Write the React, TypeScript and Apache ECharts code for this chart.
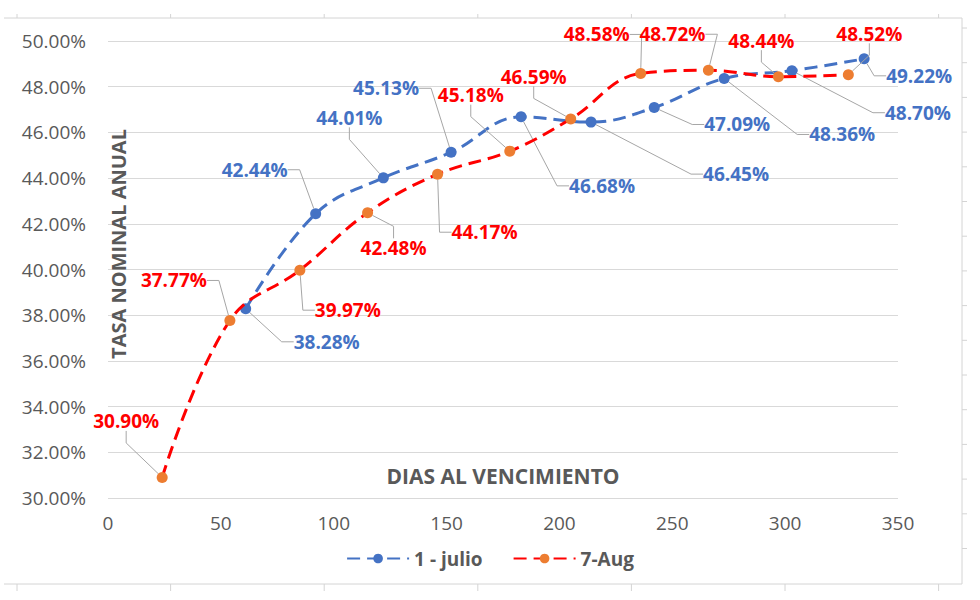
import React, { useEffect, useRef } from "react";
import * as echarts from "echarts";

const julioDays = [61, 92, 122, 152, 183, 214, 242, 273, 303, 335];
const julioRates = [38.28, 42.44, 44.01, 45.13, 46.68, 46.45, 47.09, 48.36, 48.7, 49.22];
const augDays = [24, 54, 85, 115, 146, 178, 205, 236, 266, 297, 328];
const augRates = [30.9, 37.77, 39.97, 42.48, 44.17, 45.18, 46.59, 48.58, 48.72, 48.44, 48.52];
const yTicks = { min: 30, max: 50, step: 2 };
const xTicks = { min: 0, max: 350, step: 50 };

// label offsets (layout only)
const julioLabelOffsets = [
  [81, 33], [-61, -44], [-34, -60], [-65, -64], [81, 69], [145, 52], [83, 17], [118, 56], [126, 42], [55, 17],
];
const augLabelOffsets = [
  [-36, -56], [-56, -40], [48, 40], [26, 35], [47, 58], [-39, -56], [-37, -42], [-44, -39], [-36, -36], [-17, -36], [21, -41],
];

const FONT = "Open Sans";
const BLUE = "#4472C4";
const RED = "#FF0000";
const ORANGE = "#ED7D31";
const GRAY = "#595959";

function sheetGrid() {
  const els: any[] = [];
  const c = "#d4d4d4";
  els.push({ type: "line", shape: { x1: 4, y1: 18, x2: 962, y2: 18 }, style: { stroke: c, lineWidth: 1 } });
  els.push({ type: "line", shape: { x1: 4, y1: 584, x2: 962, y2: 584 }, style: { stroke: c, lineWidth: 1 } });
  els.push({ type: "line", shape: { x1: 962, y1: 18, x2: 962, y2: 584 }, style: { stroke: c, lineWidth: 1 } });
  for (let i = 0; i < 7; i++) {
    const x = 17 + i * 153.6;
    els.push({ type: "line", shape: { x1: x, y1: 14, x2: x, y2: 18 }, style: { stroke: c, lineWidth: 1 } });
    els.push({ type: "line", shape: { x1: x, y1: 584, x2: x, y2: 591 }, style: { stroke: c, lineWidth: 1 } });
  }
  for (let i = 0; i < 16; i++) {
    const y = 28 + i * 34.7;
    if (y > 584) break;
    els.push({ type: "line", shape: { x1: 962, y1: y, x2: 967, y2: y }, style: { stroke: c, lineWidth: 1 } });
  }
  return els;
}

export default function App() {
  const ref = useRef<HTMLDivElement>(null);
  useEffect(() => {
    if (!ref.current) return;
    const chart = echarts.init(ref.current, null, { renderer: "svg" });
    const mkLayout = (offsets: number[][]) => (p: any) => {
      const o = offsets[p.dataIndex] || [0, 0];
      return {
        x: p.rect.x + p.rect.width / 2 + o[0],
        y: p.rect.y + p.rect.height / 2 + o[1],
        align: "center",
        verticalAlign: "middle",
      };
    };
    const labelLine = { show: true, length2: 12, lineStyle: { color: "#a6a6a6", width: 1 } };
    chart.setOption({
      animation: false,
      backgroundColor: "#ffffff",
      textStyle: { fontFamily: FONT },
      grid: { left: 108, right: 82, top: 41, bottom: 102, containLabel: false },
      xAxis: {
        type: "value",
        min: xTicks.min,
        max: xTicks.max,
        interval: xTicks.step,
        axisLine: { show: false },
        axisTick: { show: false },
        splitLine: { show: false },
        axisLabel: { color: GRAY, fontSize: 19, margin: 15, fontFamily: FONT },
      },
      yAxis: {
        type: "value",
        min: yTicks.min,
        max: yTicks.max,
        interval: yTicks.step,
        axisLine: { show: false },
        axisTick: { show: false },
        splitLine: { lineStyle: { color: "#d9d9d9", width: 1 } },
        axisLabel: {
          color: GRAY,
          fontSize: 19,
          margin: 22,
          fontFamily: FONT,
          formatter: (v: number) => v.toFixed(2) + "%",
        },
      },
      legend: {
        left: "center",
        top: 544,
        itemWidth: 62,
        itemHeight: 12,
        itemGap: 30,
        textStyle: { color: GRAY, fontSize: 19, fontWeight: "bold", fontFamily: FONT },
        data: ["1 - julio", "7-Aug"],
      },
      graphic: [
        ...sheetGrid(),
        {
          type: "text",
          x: 503,
          y: 476,
          z: 10,
          style: {
            text: "DIAS AL VENCIMIENTO",
            fill: GRAY,
            font: `bold 21px "${FONT}"`,
            align: "center",
            verticalAlign: "middle",
          },
        },
        {
          type: "text",
          x: 118,
          y: 244,
          rotation: Math.PI / 2,
          z: 10,
          style: {
            text: "TASA NOMINAL ANUAL",
            fill: GRAY,
            font: `bold 20px "${FONT}"`,
            align: "center",
            verticalAlign: "middle",
          },
        },
      ],
      series: [
        {
          name: "1 - julio",
          type: "line",
          smooth: 0.4,
          data: julioDays.map((d, i) => [d, julioRates[i]]),
          symbol: "circle",
          symbolSize: 11,
          itemStyle: { color: BLUE },
          lineStyle: { color: BLUE, width: 3, type: [13, 7] },
          label: {
            show: true,
            color: BLUE,
            fontWeight: "bold",
            fontSize: 19,
            fontFamily: FONT,
            formatter: (p: any) => p.value[1].toFixed(2) + "%",
          },
          labelLine,
          labelLayout: mkLayout(julioLabelOffsets),
          z: 3,
        },
        {
          name: "7-Aug",
          type: "line",
          smooth: 0.4,
          data: augDays.map((d, i) => [d, augRates[i]]),
          symbol: "circle",
          symbolSize: 11,
          itemStyle: { color: ORANGE },
          lineStyle: { color: RED, width: 3, type: [13, 7] },
          label: {
            show: true,
            color: RED,
            fontWeight: "bold",
            fontSize: 19,
            fontFamily: FONT,
            formatter: (p: any) => p.value[1].toFixed(2) + "%",
          },
          labelLine,
          labelLayout: mkLayout(augLabelOffsets),
          z: 4,
        },
      ],
    });
    return () => chart.dispose();
  }, []);
  return <div ref={ref} style={{ width: 980, height: 600, position: "absolute", left: 0, top: 0 }} />;
}
